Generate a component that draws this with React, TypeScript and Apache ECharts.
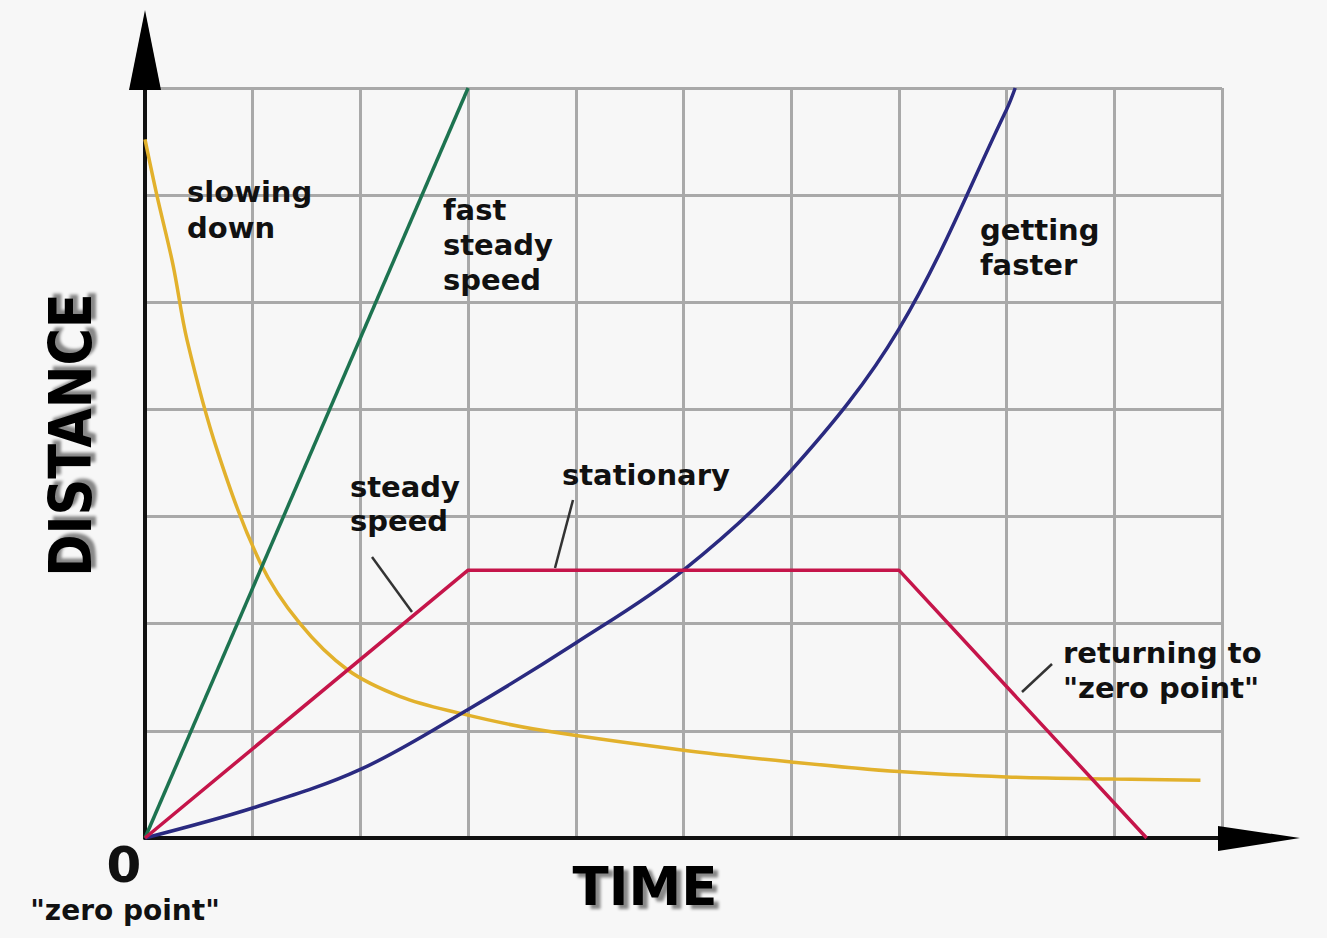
import React, { useEffect, useRef } from "react";
import * as echarts from "echarts";

// Data (time units on x, distance units on y)
const fastSteadySpeed: number[][] = [[0, 0], [3, 7]];
const steadyStationaryReturn: number[][] = [[0, 0], [3, 2.5], [7, 2.5], [9.3, 0]];
const gettingFaster: number[][] = [
  [0, 0], [1, 0.28], [2, 0.64], [3, 1.2], [4, 1.82], [5, 2.5], [6, 3.43], [7, 4.75], [8, 6.8], [8.08, 7],
];
const slowingDown: number[][] = [
  [0, 6.52], [0.11, 6.0], [0.26, 5.35], [0.39, 4.65], [0.67, 3.62], [1.07, 2.57], [1.44, 2.0],
  [1.88, 1.57], [2.37, 1.32], [2.9, 1.17], [3.6, 1.02], [5, 0.82], [6, 0.71], [7, 0.62],
  [8, 0.57], [9, 0.55], [9.8, 0.54],
];
const xRange = [0, 10];
const yRange = [0, 7];

const FONT = "'DejaVu Sans', sans-serif";

function label(text: string, x: number, y: number, size = 29, align = "left") {
  return {
    type: "text",
    x,
    y,
    z: 50,
    style: {
      text,
      fill: "#111",
      font: `bold ${size}px ${FONT}`,
      textAlign: align,
      textVerticalAlign: "middle",
    },
  };
}

function leader(x1: number, y1: number, x2: number, y2: number) {
  return {
    type: "line",
    z: 40,
    shape: { x1, y1, x2, y2 },
    style: { stroke: "#333", lineWidth: 2.5 },
  };
}

export default function App() {
  const ref = useRef<HTMLDivElement>(null);
  useEffect(() => {
    const chart = echarts.init(ref.current!, undefined, { renderer: "svg" });
    const lineCommon = { type: "line", showSymbol: false, symbol: "none", z: 5 };
    chart.setOption({
      animation: false,
      backgroundColor: "#f7f7f7",
      grid: { left: 145, right: 105, top: 88, bottom: 100 },
      xAxis: {
        type: "value",
        min: xRange[0],
        max: xRange[1],
        interval: 1,
        axisLabel: { show: false },
        axisTick: { show: false },
        axisLine: { show: true, onZero: false, lineStyle: { color: "#111", width: 4 } },
        splitLine: { show: true, lineStyle: { color: "#a9a9a9", width: 3 } },
      },
      yAxis: {
        type: "value",
        min: yRange[0],
        max: yRange[1],
        interval: 1,
        axisLabel: { show: false },
        axisTick: { show: false },
        axisLine: { show: true, onZero: false, lineStyle: { color: "#111", width: 4 } },
        splitLine: { show: true, lineStyle: { color: "#a9a9a9", width: 3 } },
      },
      series: [
        { ...lineCommon, name: "slowing down", data: slowingDown, smooth: 0.35,
          lineStyle: { color: "#e2b12c", width: 3.5 } },
        { ...lineCommon, name: "fast steady speed", data: fastSteadySpeed,
          lineStyle: { color: "#1d7350", width: 3.5 } },
        { ...lineCommon, name: "getting faster", data: gettingFaster, smooth: 0.35,
          lineStyle: { color: "#2a2a80", width: 3.5 } },
        { ...lineCommon, name: "steady speed", data: steadyStationaryReturn,
          lineStyle: { color: "#c5154a", width: 3.5 } },
      ],
      graphic: [
        // axis arrows
        { type: "polygon", z: 60, shape: { points: [[129, 90], [161, 90], [145, 10]] }, style: { fill: "#000" } },
        { type: "polygon", z: 60, shape: { points: [[1218, 826], [1218, 851], [1300, 838]] }, style: { fill: "#000" } },
        // annotations
        label("slowing", 187, 192),
        label("down", 187, 228),
        label("fast", 443, 210),
        label("steady", 443, 245),
        label("speed", 443, 280),
        label("getting", 980, 230),
        label("faster", 980, 265),
        label("steady", 350, 487),
        label("speed", 350, 521),
        label("stationary", 562, 475),
        label("returning to", 1063, 653),
        label("\"zero point\"", 1063, 688),
        leader(372, 557, 412, 612),
        leader(573, 500, 555, 568),
        leader(1052, 664, 1022, 692),
        // origin
        label("0", 124, 865, 50, "center"),
        label("\"zero point\"", 125, 910, 28, "center"),
        // axis titles with shadow
        {
          type: "text", x: 645, y: 886, z: 31,
          style: {
            text: "TIME", fill: "#000", font: `bold 53px ${FONT}`, textAlign: "center", textVerticalAlign: "middle",
            textShadowColor: "rgba(0,0,0,0.45)", textShadowBlur: 3, textShadowOffsetX: 5, textShadowOffsetY: 4,
          },
        },
        {
          type: "text", x: 71, y: 435, z: 31, rotation: Math.PI / 2, scaleX: 0.88,
          style: {
            text: "DISTANCE", fill: "#000", font: `bold 58px ${FONT}`, textAlign: "center", textVerticalAlign: "middle",
            textShadowColor: "rgba(0,0,0,0.45)", textShadowBlur: 3, textShadowOffsetX: 4, textShadowOffsetY: 5,
          },
        },
      ],
    });
    return () => chart.dispose();
  }, []);
  return (
    <div
      ref={ref}
      style={{ position: "fixed", left: 0, top: 0, width: 1327, height: 938, background: "#f7f7f7" }}
    />
  );
}
